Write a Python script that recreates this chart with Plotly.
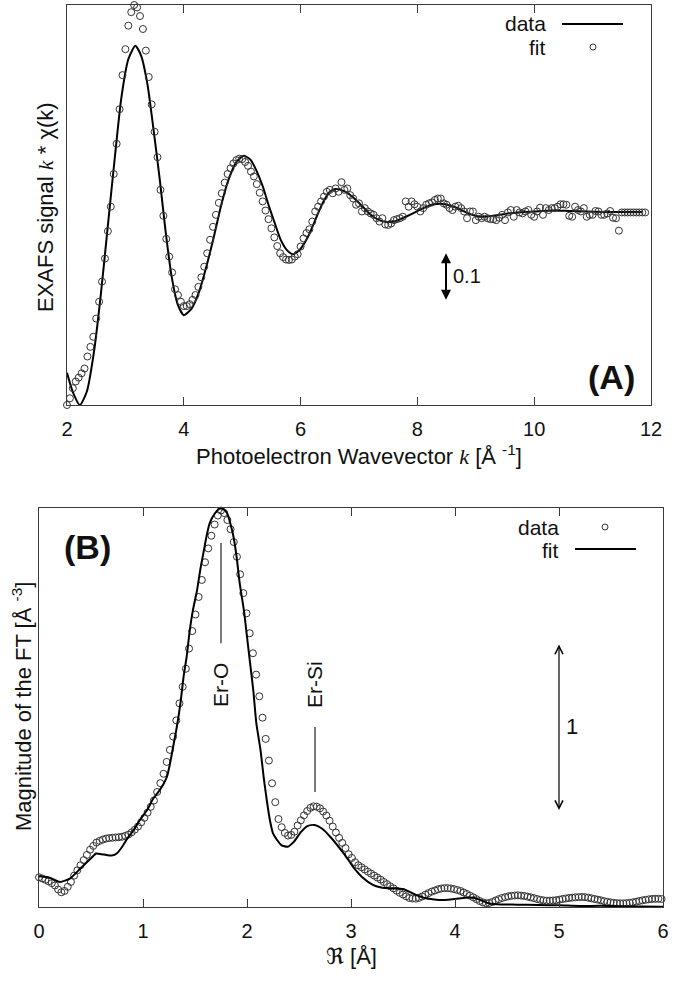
import plotly.graph_objects as go

# ---------------- Panel A : k-space ----------------
# fit (circles), sampled every 0.05 A^-1 starting at k = 2.00
K_FIT_START = 2.00
K_FIT_STEP = 0.05
FIT_A = [
    -0.402, -0.388, -0.367, -0.353, -0.345, -0.336, -0.326, -0.301, -0.281, -0.260,
    -0.222, -0.187, -0.145, -0.097, -0.040, 0.011, 0.079, 0.142, 0.214, 0.285,
    0.339, 0.388, 0.416, 0.431, 0.426, 0.408, 0.381, 0.336, 0.281, 0.224,
    0.167, 0.114, 0.046, -0.008, -0.056, -0.093, -0.126, -0.161, -0.173, -0.187,
    -0.196, -0.196, -0.192, -0.183, -0.173, -0.156, -0.136, -0.114, -0.086, -0.058,
    -0.031, -0.006, 0.019, 0.039, 0.061, 0.079, 0.091, 0.101, 0.108, 0.111,
    0.110, 0.104, 0.096, 0.084, 0.074, 0.058, 0.040, 0.022, 0.003, -0.015,
    -0.034, -0.053, -0.071, -0.086, -0.094, -0.099, -0.100, -0.099, -0.093, -0.088,
    -0.072, -0.055, -0.044, -0.036, -0.020, 0.001, 0.011, 0.022, 0.032, 0.042,
    0.046, 0.039, 0.049, 0.042, 0.062, 0.046, 0.049, 0.035, 0.028, 0.015,
    0.018, 0.001, 0.008, 0.001, -0.003, -0.006, -0.013, -0.020, -0.013, -0.026,
    -0.027, -0.024, -0.017, -0.015, -0.013, -0.010, 0.022, 0.011, 0.022, 0.016,
    0.011, 0.001, 0.008, 0.015, 0.018, 0.020, 0.025, 0.028, 0.028, 0.018,
    0.015, 0.008, 0.004, 0.011, 0.013, 0.008, 0.001, -0.013, 0.001, 0.001,
    -0.017, -0.010, -0.013, -0.010, -0.013, -0.015, -0.015, -0.017, -0.012, -0.006,
    -0.017, -0.001, 0.004, -0.010, 0.004, -0.001, -0.003, 0.001, 0.004, -0.006,
    -0.010, 0.001, 0.009, -0.006, 0.008, 0.004, 0.008, 0.008, 0.011, 0.016,
    0.016, 0.015, -0.008, -0.010, 0.011, 0.004, 0.001, 0.008, -0.010, -0.006,
    -0.006, 0.002, 0.001, -0.006, -0.006, -0.003, 0.002, -0.012, -0.013, -0.039,
    -0.001, -0.001, -0.001, -0.001, -0.001, -0.001, -0.001, -0.001, -0.001,
]
K_FIT_A = [round(K_FIT_START + K_FIT_STEP * i, 2) for i in range(len(FIT_A))]

# data (solid line)
K_DATA_A = [
    2.00, 2.10, 2.22, 2.34, 2.46, 2.58, 2.70, 2.82, 2.93, 3.05,
    3.17, 3.27, 3.38, 3.48, 3.59, 3.69, 3.79, 3.90, 4.00, 4.13,
    4.26, 4.39, 4.52, 4.64, 4.77, 4.90, 5.03, 5.14, 5.24, 5.35,
    5.45, 5.56, 5.66, 5.77, 5.87, 5.96, 6.05, 6.15, 6.24, 6.33,
    6.42, 6.51, 6.60, 6.71, 6.82, 6.93, 7.04, 7.15, 7.26, 7.37,
    7.48, 7.60, 7.71, 7.82, 7.94, 8.05, 8.16, 8.28, 8.39, 8.48,
    8.57, 8.67, 8.76, 8.85, 8.94, 9.03, 9.12, 9.40, 9.70, 10.0,
    10.3, 10.6, 10.9, 11.2, 11.5, 11.85,
]
DATA_A = [
    -0.335, -0.375, -0.402, -0.374, -0.293, -0.171, -0.028, 0.115, 0.237, 0.318,
    0.346, 0.325, 0.264, 0.173, 0.066, -0.042, -0.133, -0.194, -0.215, -0.202,
    -0.167, -0.112, -0.049, 0.014, 0.069, 0.104, 0.117, 0.109, 0.087, 0.054,
    0.015, -0.024, -0.058, -0.080, -0.088, -0.082, -0.068, -0.046, -0.020, 0.006,
    0.028, 0.043, 0.048, 0.045, 0.038, 0.027, 0.014, 0.000, -0.011, -0.018,
    -0.021, -0.020, -0.015, -0.009, -0.002, 0.005, 0.011, 0.016, 0.017, 0.016,
    0.013, 0.009, 0.004, -0.002, -0.006, -0.009, -0.010, -0.006, -0.001, 0.001,
    0.003, 0.002, 0.001, 0.000, 0.000, 0.000,
]

# ---------------- Panel B : R-space ----------------
# data (circles), sampled every 0.0307 A starting at R = 0
R_DATA_STEP = 0.0307
DATA_B = [
    0.178, 0.171, 0.163, 0.154, 0.143, 0.129, 0.105, 0.088, 0.096, 0.121,
    0.150, 0.188, 0.220, 0.250, 0.281, 0.312, 0.343, 0.366, 0.386, 0.396,
    0.404, 0.410, 0.413, 0.415, 0.417, 0.418, 0.421, 0.426, 0.434, 0.447,
    0.463, 0.482, 0.507, 0.534, 0.565, 0.600, 0.638, 0.689, 0.742, 0.798,
    0.869, 0.941, 1.021, 1.118, 1.220, 1.319, 1.427, 1.548, 1.653, 1.752,
    1.857, 1.959, 2.065, 2.148, 2.224, 2.291, 2.345, 2.375, 2.360, 2.318,
    2.263, 2.186, 2.098, 1.993, 1.880, 1.759, 1.640, 1.520, 1.392, 1.262,
    1.134, 1.007, 0.877, 0.741, 0.628, 0.527, 0.478, 0.444, 0.428, 0.432,
    0.451, 0.488, 0.519, 0.549, 0.575, 0.594, 0.603, 0.601, 0.591, 0.572,
    0.548, 0.517, 0.482, 0.446, 0.414, 0.384, 0.353, 0.316, 0.294, 0.268,
    0.250, 0.238, 0.225, 0.212, 0.200, 0.188, 0.176, 0.164, 0.150, 0.137,
    0.124, 0.112, 0.098, 0.085, 0.075, 0.064, 0.054, 0.051, 0.050, 0.055,
    0.063, 0.074, 0.083, 0.092, 0.099, 0.106, 0.111, 0.113, 0.113, 0.111,
    0.107, 0.102, 0.096, 0.087, 0.078, 0.068, 0.058, 0.047, 0.036, 0.028,
    0.022, 0.024, 0.030, 0.039, 0.047, 0.054, 0.059, 0.064, 0.067, 0.069,
    0.070, 0.068, 0.066, 0.062, 0.058, 0.053, 0.048, 0.043, 0.040, 0.038,
    0.038, 0.039, 0.041, 0.044, 0.048, 0.051, 0.054, 0.056, 0.058, 0.059,
    0.060, 0.059, 0.056, 0.052, 0.048, 0.044, 0.040, 0.035, 0.031, 0.028,
    0.025, 0.023, 0.022, 0.022, 0.023, 0.025, 0.028, 0.032, 0.036, 0.040,
    0.043, 0.046, 0.048, 0.049, 0.049, 0.048,
]
R_DATA_B = [round(R_DATA_STEP * i, 4) for i in range(len(DATA_B))]

# fit (solid line)
R_FIT_B = [
    0.00, 0.10, 0.20, 0.30, 0.40, 0.50, 0.55, 0.60, 0.65, 0.70,
    0.75, 0.80, 0.85, 0.91, 0.97, 1.04, 1.10, 1.16, 1.20, 1.23,
    1.26, 1.29, 1.32, 1.36, 1.39, 1.42, 1.45, 1.48, 1.52, 1.55,
    1.58, 1.61, 1.64, 1.69, 1.74, 1.78, 1.81, 1.84, 1.87, 1.90,
    1.93, 1.97, 2.00, 2.03, 2.06, 2.09, 2.13, 2.16, 2.19, 2.22,
    2.25, 2.29, 2.33, 2.39, 2.45, 2.52, 2.58, 2.65, 2.72, 2.80,
    2.93, 3.02, 3.12, 3.21, 3.30, 3.40, 3.50, 3.60, 3.70, 3.80,
    3.90, 4.00, 4.10, 4.18, 4.25, 4.32, 4.40, 4.60, 4.80, 5.00,
    5.20, 5.40, 5.60, 5.80, 6.00,
]
FIT_B = [
    0.184, 0.176, 0.150, 0.172, 0.232, 0.292, 0.320, 0.316, 0.311, 0.308,
    0.322, 0.361, 0.411, 0.461, 0.521, 0.581, 0.651, 0.700, 0.740, 0.780,
    0.860, 0.960, 1.060, 1.220, 1.379, 1.500, 1.659, 1.778, 1.898, 2.018,
    2.118, 2.218, 2.297, 2.357, 2.387, 2.380, 2.357, 2.297, 2.218, 2.098,
    1.938, 1.778, 1.619, 1.459, 1.300, 1.100, 0.940, 0.780, 0.641, 0.521,
    0.441, 0.401, 0.371, 0.361, 0.390, 0.450, 0.485, 0.491, 0.470, 0.421,
    0.321, 0.241, 0.172, 0.132, 0.115, 0.112, 0.108, 0.080, 0.055, 0.045,
    0.042, 0.048, 0.056, 0.055, 0.040, 0.022, 0.016, 0.014, 0.012, 0.010,
    0.006, 0.007, 0.004, 0.003, 0.002,
]

# annotation anchors (data units)
SCALE_A_K, SCALE_A_LO, SCALE_A_HI = 8.49, -0.183, -0.083   # 0.1 bar
SCALE_B_R, SCALE_B_LO, SCALE_B_HI = 5.0, 0.581, 1.581      # 1 bar
ER_O_R, ER_SI_R = 1.75, 2.654

W, H = 675, 982
FONT = "Liberation Sans, Arial, DejaVu Sans, sans-serif"
INK = "#111111"
FRAME = "#3a3a3a"
CIRC = "#333333"


def px(x):
    return x / W


def py(y):
    return 1 - y / H


fig = go.Figure()

fig.add_trace(go.Scatter(
    x=K_DATA_A, y=DATA_A, mode="lines", name="data",
    line=dict(color="#000000", width=2, shape="spline", smoothing=0.6),
    xaxis="x", yaxis="y", showlegend=False, cliponaxis=True))
fig.add_trace(go.Scatter(
    x=K_FIT_A, y=FIT_A, mode="markers", name="fit",
    marker=dict(symbol="circle-open", size=7, color=CIRC, line=dict(width=1, color=CIRC)),
    xaxis="x", yaxis="y", showlegend=False, cliponaxis=False))

fig.add_trace(go.Scatter(
    x=R_DATA_B, y=DATA_B, mode="markers", name="data",
    marker=dict(symbol="circle-open", size=7, color=CIRC, line=dict(width=1, color=CIRC)),
    xaxis="x2", yaxis="y2", showlegend=False, cliponaxis=False))
fig.add_trace(go.Scatter(
    x=R_FIT_B, y=FIT_B, mode="lines", name="fit",
    line=dict(color="#000000", width=2, shape="spline", smoothing=0.6),
    xaxis="x2", yaxis="y2", showlegend=False, cliponaxis=True))

axis_common = dict(showgrid=False, zeroline=False, showline=True, linecolor=FRAME,
                   linewidth=1, mirror="ticks", automargin=False)
fig.update_layout(
    width=W, height=H, autosize=False,
    margin=dict(l=0, r=0, t=0, b=0, pad=0, autoexpand=False),
    paper_bgcolor="white", plot_bgcolor="white",
    font=dict(family=FONT, color=INK, size=20),
    xaxis=dict(domain=[px(67), px(651)], anchor="y", range=[2, 12],
               tickvals=[2, 4, 6, 8, 10, 12], ticks="inside", ticklen=8, tickcolor=FRAME,
               tickfont=dict(size=20, color=INK), ticklabelstandoff=6, **axis_common),
    yaxis=dict(domain=[py(405), py(5)], anchor="x", range=[-0.402, 0.431],
               showticklabels=False, ticks="", **axis_common),
    xaxis2=dict(domain=[px(39), px(663)], anchor="y2", range=[0, 6],
                tickvals=[0, 1, 2, 3, 4, 5, 6], ticks="inside", ticklen=8, tickcolor=FRAME,
                tickfont=dict(size=20, color=INK), ticklabelstandoff=6, **axis_common),
    yaxis2=dict(domain=[py(907), py(508)], anchor="x2", range=[0, 2.39],
                showticklabels=False, ticks="", **axis_common),
)

ann = []
shapes = []
ital = '<span style="font-family:Liberation Serif, DejaVu Serif, serif"><i>k</i></span>'

# axis titles
ann.append(dict(text=f"Photoelectron Wavevector {ital} [Å <sup>-1</sup>]", xref="paper", yref="paper",
                x=px(359), y=py(455), xanchor="center", yanchor="middle", showarrow=False,
                font=dict(size=22)))
ann.append(dict(text=f"EXAFS signal {ital} * χ(k)", xref="paper", yref="paper",
                x=px(46), y=py(207), xanchor="center", yanchor="middle", showarrow=False,
                textangle=-90, font=dict(size=22)))
ann.append(dict(text="ℜ [Å]", xref="paper", yref="paper",
                x=px(351), y=py(956), xanchor="center", yanchor="middle", showarrow=False,
                font=dict(size=22)))
ann.append(dict(text="Magnitude of the FT [Å <sup>-3</sup>]", xref="paper", yref="paper",
                x=px(22), y=py(707), xanchor="center", yanchor="middle", showarrow=False,
                textangle=-90, font=dict(size=22)))

# panel labels
ann.append(dict(text="<b>(A)</b>", xref="paper", yref="paper", x=px(611), y=py(377),
                xanchor="center", yanchor="middle", showarrow=False, font=dict(size=34)))
ann.append(dict(text="<b>(B)</b>", xref="paper", yref="paper", x=px(88), y=py(547),
                xanchor="center", yanchor="middle", showarrow=False, font=dict(size=34)))

# legends (text left, sample right)
ann.append(dict(text="data", xref="paper", yref="paper", x=px(548), y=py(24),
                xanchor="right", yanchor="middle", showarrow=False, font=dict(size=21)))
ann.append(dict(text="fit", xref="paper", yref="paper", x=px(548), y=py(47),
                xanchor="right", yanchor="middle", showarrow=False, font=dict(size=21)))
shapes.append(dict(type="line", xref="paper", yref="paper", x0=px(562), x1=px(623),
                   y0=py(24), y1=py(24), line=dict(color="#000", width=2)))
shapes.append(dict(type="circle", xref="paper", yref="paper", x0=px(590), x1=px(596),
                   y0=py(44), y1=py(50), line=dict(color=CIRC, width=1)))

ann.append(dict(text="data", xref="paper", yref="paper", x=px(561), y=py(527),
                xanchor="right", yanchor="middle", showarrow=False, font=dict(size=21)))
ann.append(dict(text="fit", xref="paper", yref="paper", x=px(561), y=py(550),
                xanchor="right", yanchor="middle", showarrow=False, font=dict(size=21)))
shapes.append(dict(type="circle", xref="paper", yref="paper", x0=px(602), x1=px(608),
                   y0=py(524), y1=py(530), line=dict(color=CIRC, width=1)))
shapes.append(dict(type="line", xref="paper", yref="paper", x0=px(575), x1=px(636),
                   y0=py(549), y1=py(549), line=dict(color="#000", width=2)))

# scale bars
ann.append(dict(x=SCALE_A_K, y=SCALE_A_LO, ax=SCALE_A_K, ay=SCALE_A_HI, xref="x", yref="y",
                axref="x", ayref="y", text="", showarrow=True, arrowhead=2, startarrowhead=2,
                arrowside="end+start", arrowwidth=2, arrowsize=1, startarrowsize=1,
                arrowcolor="#000"))
ann.append(dict(text="0.1", xref="x", yref="y", x=SCALE_A_K, y=(SCALE_A_LO + SCALE_A_HI) / 2,
                xanchor="left", yanchor="middle", xshift=5, showarrow=False, font=dict(size=20)))
ann.append(dict(x=SCALE_B_R, y=SCALE_B_LO, ax=SCALE_B_R, ay=SCALE_B_HI, xref="x2", yref="y2",
                axref="x2", ayref="y2", text="", showarrow=True, arrowhead=5, startarrowhead=5,
                arrowside="end+start", arrowwidth=1.2, arrowsize=1.3, startarrowsize=1.3,
                arrowcolor="#000"))
ann.append(dict(text="1", xref="x2", yref="y2", x=SCALE_B_R, y=(SCALE_B_LO + SCALE_B_HI) / 2,
                xanchor="left", yanchor="middle", xshift=5, showarrow=False, font=dict(size=22)))

# peak labels
ann.append(dict(text="Er-O", xref="x2", yref="y2", x=ER_O_R, y=1.33, textangle=-90,
                xanchor="center", yanchor="middle", showarrow=False, font=dict(size=21)))
ann.append(dict(text="Er-Si", xref="x2", yref="y2", x=ER_SI_R, y=1.33, textangle=-90,
                xanchor="center", yanchor="middle", showarrow=False, font=dict(size=21)))
shapes.append(dict(type="line", xref="x2", yref="y2", x0=ER_O_R, x1=ER_O_R, y0=1.58, y1=2.18,
                   line=dict(color="#222", width=1.2)))
shapes.append(dict(type="line", xref="x2", yref="y2", x0=ER_SI_R, x1=ER_SI_R, y0=0.689, y1=1.078,
                   line=dict(color="#222", width=1.2)))

fig.update_layout(annotations=ann, shapes=shapes)
fig.write_html("out.html", config={"displayModeBar": False, "staticPlot": True},
               post_script="document.body.style.margin='0';document.body.style.overflow='hidden';")
